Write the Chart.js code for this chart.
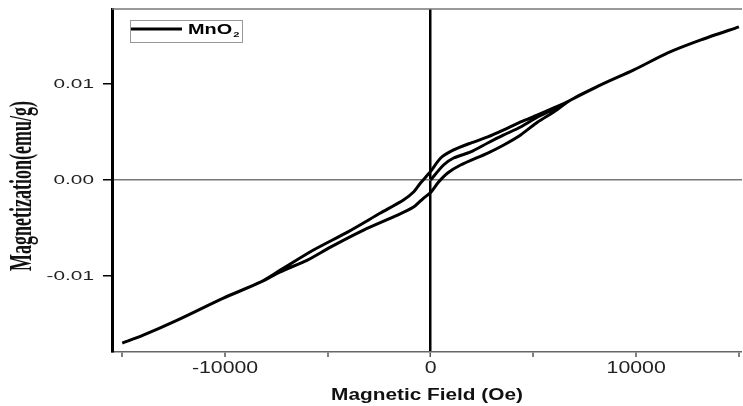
<!DOCTYPE html>
<html>
<head>
<meta charset="utf-8">
<script src="https://cdn.jsdelivr.net/npm/chart.js@4.4.1/dist/chart.umd.min.js"></script>
<style>
  body { margin: 0; background: #fff; }
</style>
</head>
<body>
<canvas id="mhChart" width="743" height="406"></canvas>
<script>
// M-H loop of MnO2
const fieldInit = [0, 630, 1120, 1950, 2780, 3560, 4380, 5210, 6000, 6820, 8280, 9890, 11540, 13150, 15000];
const momentInit = [0, 0.00156, 0.00229, 0.00292, 0.00385, 0.00469, 0.00552, 0.00656, 0.0074, 0.00833, 0.0099, 0.01146, 0.01323, 0.01458, 0.01594];

const fieldDown = [15000, 13150, 11540, 9890, 8280, 6820, 5990, 5210, 4380, 3560, 2780, 1950, 1120, 490, 0, -490, -830, -1320, -2440, -4040, -5700, -7310, -8280, -10080, -12320, -13980, -15000];
const momentDown = [0.01594, 0.01458, 0.01323, 0.01146, 0.0099, 0.00833, 0.0075, 0.00677, 0.00604, 0.00521, 0.00448, 0.00385, 0.00313, 0.00229, 0.0009, -0.00031, -0.00125, -0.00208, -0.00344, -0.00542, -0.00729, -0.00938, -0.01063, -0.01229, -0.01458, -0.01615, -0.01698];

const fieldUp = [-15000, -13980, -12320, -10080, -8280, -7310, -5990, -4870, -3260, -1610, -830, -340, 0, 390, 830, 1460, 2780, 3560, 4380, 5210, 5990, 6820, 8280, 9890, 11540, 13150, 15000];
const momentUp = [-0.01698, -0.01615, -0.01458, -0.01229, -0.01063, -0.00955, -0.00833, -0.00698, -0.00521, -0.00365, -0.00281, -0.00188, -0.0013, -0.00021, 0.00073, 0.00156, 0.00281, 0.00365, 0.00469, 0.00604, 0.00708, 0.00833, 0.0099, 0.01146, 0.01323, 0.01458, 0.01594];

const xTicks = [-15000, -10000, -5000, 0, 5000, 10000, 15000];
const xLabeled = [-10000, 0, 10000];
const yTicks = [-0.01, 0, 0.01];
const seriesName = ['MnO', '2'];
const xTitle = 'Magnetic Field (Oe)';
const yTitle = 'Magnetization(emu/g)';

function toPoints(xs, ys) {
    return xs.map((x, i) => ({ x: x, y: ys[i] }));
}
const loop = toPoints(fieldInit, momentInit)
    .concat(toPoints(fieldDown, momentDown))
    .concat(toPoints(fieldUp, momentUp));

const SANS = '"Liberation Sans", Arial, sans-serif';
const SERIF = '"Liberation Serif", "Times New Roman", serif';

// the source image is stretched sideways, so text is drawn with a horizontal scale
function wideText(ctx, text, x, y, font, sx, align) {
    ctx.save();
    ctx.font = font;
    ctx.textAlign = align || 'center';
    ctx.textBaseline = 'middle';
    ctx.translate(x, y);
    ctx.scale(sx, 1);
    ctx.fillText(text, 0, 0);
    ctx.restore();
}

const framePlugin = {
    id: 'frame',
    afterDraw(chart) {
        const ctx = chart.ctx;
        const a = chart.chartArea;
        const xs = chart.scales.x, ys = chart.scales.y;
        ctx.save();

        // top frame line
        ctx.strokeStyle = '#777';
        ctx.lineWidth = 1.5;
        ctx.beginPath();
        ctx.moveTo(a.left, a.top);
        ctx.lineTo(a.right, a.top);
        ctx.stroke();

        // tick labels
        ctx.fillStyle = '#222';
        xLabeled.forEach(v => {
            wideText(ctx, String(v), xs.getPixelForValue(v), a.bottom + 17, '16px ' + SANS, 1.33, 'center');
        });
        yTicks.forEach(v => {
            wideText(ctx, v.toFixed(2), a.left - 18, ys.getPixelForValue(v), '13px ' + SANS, 1.6, 'right');
        });

        // axis titles
        ctx.fillStyle = '#111';
        wideText(ctx, xTitle, (a.left + a.right) / 2, a.bottom + 44, 'bold 16px ' + SANS, 1.3, 'center');
        ctx.save();
        ctx.translate(23, 186);
        ctx.rotate(-Math.PI / 2);
        ctx.scale(1, 1.7);
        ctx.font = 'bold 18px ' + SERIF;
        ctx.textAlign = 'center';
        ctx.textBaseline = 'middle';
        ctx.fillText(yTitle, 0, 0);
        ctx.restore();

        // legend box
        const bx = a.left + 18, by = a.top + 11;
        ctx.strokeStyle = '#999';
        ctx.lineWidth = 1;
        ctx.strokeRect(bx + 0.5, by + 0.5, 112, 22);
        ctx.strokeStyle = '#000';
        ctx.lineWidth = 3;
        ctx.beginPath();
        ctx.moveTo(bx + 1, by + 9);
        ctx.lineTo(bx + 52, by + 9);
        ctx.stroke();
        ctx.fillStyle = '#000';
        ctx.save();
        ctx.font = 'bold 14px ' + SANS;
        const w = ctx.measureText(seriesName[0]).width * 1.42;
        ctx.restore();
        wideText(ctx, seriesName[0], bx + 58, by + 10, 'bold 14px ' + SANS, 1.42, 'left');
        wideText(ctx, seriesName[1], bx + 58 + w + 1, by + 15, 'bold 8px ' + SANS, 1.4, 'left');
        ctx.restore();
    }
};

const ctxMH = document.getElementById('mhChart');
new Chart(ctxMH, {
    type: 'scatter',
    data: {
        datasets: [{
            label: 'MnO₂',
            data: loop,
            showLine: true,
            borderColor: '#000',
            borderWidth: 3,
            pointRadius: 0,
            tension: 0.25
        }]
    },
    options: {
        responsive: false,
        animation: false,
        layout: { padding: { left: 0, top: 9, right: 1, bottom: 0 } },
        plugins: {
            legend: { display: false },
            tooltip: { enabled: false }
        },
        scales: {
            x: {
                type: 'linear',
                min: -15500,
                max: 15150,
                afterBuildTicks: (s) => { s.ticks = xTicks.map(v => ({ value: v })); },
                afterFit: (s) => { s.height = 54; },
                border: { color: '#666', width: 1.5 },
                grid: {
                    drawOnChartArea: true,
                    color: (c) => c.tick && c.tick.value === 0 ? '#000' : 'rgba(0,0,0,0)',
                    lineWidth: (c) => c.tick && c.tick.value === 0 ? 2.5 : 0,
                    tickColor: '#555',
                    tickWidth: 1.5,
                    tickLength: 5
                },
                ticks: { display: false },
                title: { display: false }
            },
            y: {
                type: 'linear',
                min: -0.0179,
                max: 0.0178,
                afterBuildTicks: (s) => { s.ticks = yTicks.map(v => ({ value: v })); },
                afterFit: (s) => { s.width = 112; },
                border: { color: '#000', width: 3 },
                grid: {
                    drawOnChartArea: true,
                    color: (c) => c.tick && c.tick.value === 0 ? '#777' : 'rgba(0,0,0,0)',
                    lineWidth: 1.5,
                    tickColor: '#000',
                    tickWidth: 1.5,
                    tickLength: 9
                },
                ticks: { display: false },
                title: { display: false }
            }
        }
    },
    plugins: [framePlugin]
});
</script>
</body>
</html>
